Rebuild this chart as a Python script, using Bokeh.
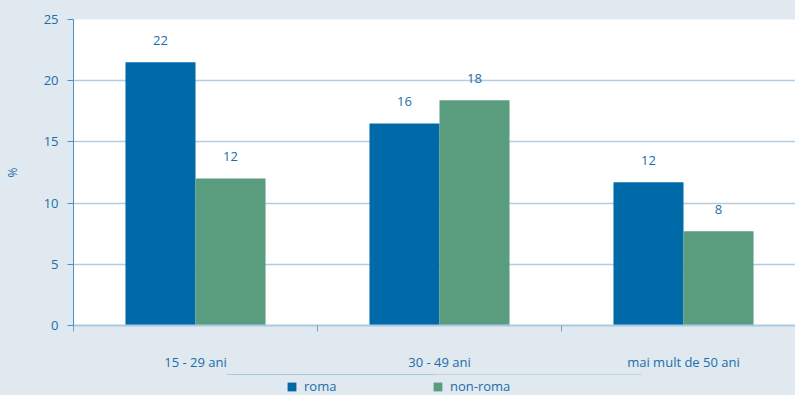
from bokeh.plotting import figure
from bokeh.layouts import column
from bokeh.models import Range1d, FixedTicker, Legend, LegendItem, ColumnDataSource
from bokeh.core.properties import value
from bokeh.embed import file_html
from bokeh.resources import INLINE

categories = ["15 - 29 ani", "30 - 49 ani", "mai mult de 50 ani"]
roma = [21.5, 16.5, 11.7]
non_roma = [12.0, 18.4, 7.7]
roma_labels = ["22", "16", "12"]
non_roma_labels = ["12", "18", "8"]
series_names = ["roma", "non-roma"]
y_ticks = [0, 5, 10, 15, 20, 25]

BG = "#e0e8f0"
TXT = "#1a6eaa"
C_ROMA = "#006aa9"
C_NON = "#5a9c7e"
FONT = "Open Sans"
LEFT = 73

bw = 0.287
centers = [i + 0.5 for i in range(len(categories))]
src_r = ColumnDataSource(dict(x=[c - bw / 2 for c in centers], top=roma, lab=roma_labels))
src_n = ColumnDataSource(dict(x=[c + bw / 2 for c in centers], top=non_roma, lab=non_roma_labels))

p = figure(width=795, height=374, output_backend="svg", toolbar_location=None,
           x_range=Range1d(0, (795 - LEFT) / 244), y_range=Range1d(0, 25),
           min_border_left=LEFT, min_border_right=0, min_border_top=19, min_border_bottom=49)
p.border_fill_color = BG
p.background_fill_color = "white"
p.outline_line_color = None

r1 = p.vbar(x="x", top="top", width=bw, source=src_r, color=C_ROMA, line_color=None)
r2 = p.vbar(x="x", top="top", width=bw, source=src_n, color=C_NON, line_color=None)
for s in (src_r, src_n):
    p.text(x="x", y="top", text="lab", source=s, y_offset=-22, text_align="center",
           text_baseline="middle", text_font=value(FONT), text_font_size="13px", text_color=TXT)

# y axis
p.yaxis.ticker = FixedTicker(ticks=y_ticks)
p.yaxis.axis_line_color = "#4a90c8"
p.yaxis.major_tick_line_color = "#4a90c8"
p.yaxis.major_tick_out = 6
p.yaxis.major_tick_in = 0
p.yaxis.minor_tick_line_color = None
p.yaxis.major_label_text_font = FONT
p.yaxis.major_label_text_font_size = "13px"
p.yaxis.major_label_text_color = TXT
p.yaxis.major_label_standoff = 9
p.yaxis.axis_label = "%"
p.yaxis.axis_label_text_font = FONT
p.yaxis.axis_label_text_font_size = "12px"
p.yaxis.axis_label_text_font_style = "normal"
p.yaxis.axis_label_text_color = TXT
p.yaxis.axis_label_standoff = 20

# x axis
p.xaxis.ticker = FixedTicker(ticks=centers, minor_ticks=[0, 1, 2, 3])
p.xaxis.major_label_overrides = {c: lab for c, lab in zip(centers, categories)}
p.xaxis.axis_line_color = "#a9c9df"
p.xaxis.axis_line_width = 2
p.xaxis.major_tick_line_color = None
p.xaxis.minor_tick_line_color = "#6fa3cc"
p.xaxis.minor_tick_out = 6
p.xaxis.minor_tick_in = 0
p.xaxis.major_label_text_font = FONT
p.xaxis.major_label_text_font_size = "13px"
p.xaxis.major_label_text_color = TXT
p.xaxis.major_label_standoff = 21

p.xgrid.grid_line_color = None
p.ygrid.ticker = FixedTicker(ticks=y_ticks)
p.ygrid.grid_line_color = "#b0cde3"
p.ygrid.grid_line_width = 1.5

# legend strip (bars of the same sources lie outside its view; only the legend shows)
lg = figure(width=795, height=21, output_backend="svg", toolbar_location=None,
            x_range=Range1d(0, 1), y_range=Range1d(-2, -1),
            x_axis_type=None, y_axis_type=None,
            min_border_left=LEFT, min_border_right=0,
            min_border_top=0, min_border_bottom=0)
lg.border_fill_color = BG
lg.background_fill_color = None
lg.outline_line_color = None
lg.xgrid.visible = False
lg.ygrid.visible = False
lr1 = lg.vbar(x="x", top="top", width=bw, source=src_r, color=C_ROMA, line_color=None)
lr2 = lg.vbar(x="x", top="top", width=bw, source=src_n, color=C_NON, line_color=None)
legend = Legend(items=[LegendItem(label=series_names[0], renderers=[lr1]),
                       LegendItem(label=series_names[1], renderers=[lr2])],
                orientation="horizontal", location=(286 - LEFT, 0),
                background_fill_alpha=0, border_line_color=None,
                label_text_font=FONT, label_text_font_size="13px", label_text_color=TXT,
                glyph_width=11, glyph_height=11, label_standoff=7, label_width=128,
                label_height=14, spacing=0, padding=0, margin=0)
lg.add_layout(legend, "center")

layout = column(p, lg, spacing=0, background=BG)
open("out.html", "w").write(file_html(layout, INLINE))
